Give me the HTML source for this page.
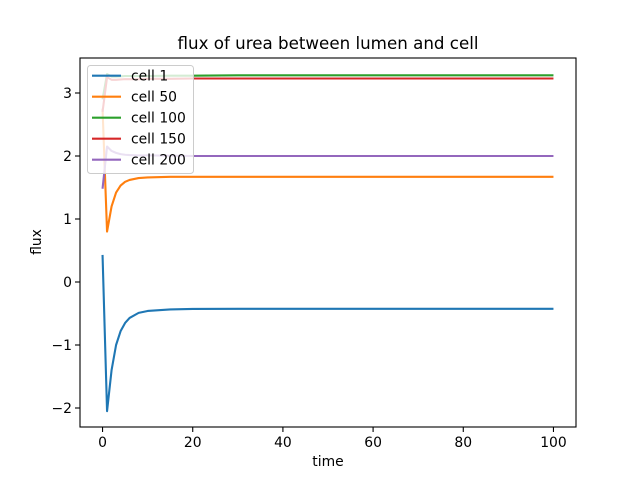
<!DOCTYPE html>
<html><head><meta charset="utf-8"><style>
body{margin:0;background:#fff}
svg{font-family:"DejaVu Sans","Liberation Sans",sans-serif}
</style></head><body>
<svg width="640" height="480" id="c">
<rect width="640" height="480" fill="#fff"/>
<text x="328" y="49" text-anchor="middle" font-size="16.7">flux of urea between lumen and cell</text>
<g id="plot"></g>
<rect x="80" y="58" width="496" height="369" fill="none" stroke="#000" stroke-width="1.1"/>
<text x="328" y="466" text-anchor="middle" font-size="13.9">time</text>
<text transform="translate(41,242) rotate(-90)" text-anchor="middle" font-size="13.9">flux</text>
<g>
<rect x="87.5" y="65.5" width="106" height="108" rx="3" style="fill:rgba(255,255,255,0.8);stroke:#cccccc;stroke-width:1"/>
<g id="legend"></g>
</g>
</svg>
<script>
const times=[0,1,2,3,4,5,6,8,10,15,20,30,100];
const cell1=[0.43,-2.05,-1.4,-1.0,-0.78,-0.65,-0.57,-0.49,-0.46,-0.435,-0.427,-0.425,-0.425];
const cell50=[2.75,0.8,1.2,1.42,1.53,1.59,1.62,1.65,1.66,1.67,1.67,1.67,1.67];
const cell100=[2.9,3.3,3.26,3.26,3.265,3.27,3.27,3.27,3.27,3.275,3.275,3.28,3.28];
const cell150=[2.7,3.25,3.21,3.21,3.215,3.22,3.22,3.22,3.225,3.225,3.23,3.23,3.23];
const cell200=[1.48,2.15,2.08,2.05,2.03,2.02,2.015,2.01,2.01,2.005,2.0,2.0,2.0];
const seriesNames=["cell 1","cell 50","cell 100","cell 150","cell 200"];
const colors=["#1f77b4","#ff7f0e","#2ca02c","#d62728","#9467bd"];
const xTicks=[0,20,40,60,80,100];
const yTicks=[-2,-1,0,1,2,3];
const NS="http://www.w3.org/2000/svg";
function sx(v){return 80+(v+5)/110*496;}
function sy(v){return 282-v*63;}
const plot=document.getElementById('plot');
function mk(t,a,p){const e=document.createElementNS(NS,t);for(const k in a)e.setAttribute(k,a[k]);(p||plot).appendChild(e);return e;}
xTicks.forEach(t=>{
 const l=mk('line',{x1:sx(t),x2:sx(t),y1:427,y2:432,stroke:'#000','stroke-width':1.1});
 
 
 const tx=mk('text',{x:sx(t),y:447,'text-anchor':'middle','font-size':13.9});
 tx.textContent=t;
 
 
});
yTicks.forEach(t=>{
 const l=mk('line',{x1:75,x2:80,y1:sy(t),y2:sy(t),stroke:'#000','stroke-width':1.1});
 
 
 const tx=mk('text',{x:72,y:sy(t)+5,'text-anchor':'end','font-size':13.9});
 tx.textContent=(t<0?'\u2212'+(-t):t);
 
 
});
const all=[cell1,cell50,cell100,cell150,cell200];
all.forEach((s,i)=>{
 const p=mk('polyline',{points:s.map((v,j)=>sx(times[j])+','+sy(v)).join(' '),fill:'none',stroke:colors[i],'stroke-width':2.1,'stroke-linejoin':'round'});
 
 
});
const lg=document.getElementById('legend');
seriesNames.forEach((n,i)=>{
 const y=75.7+i*21;
 const l=mk('line',{x1:92,x2:121,y1:y,y2:y,stroke:colors[i],'stroke-width':2.1},lg);
 
 
 const t=mk('text',{x:131,y:y+5,'font-size':13.9},lg);
 t.textContent=n;
 
 
});
</script>
</body></html>
